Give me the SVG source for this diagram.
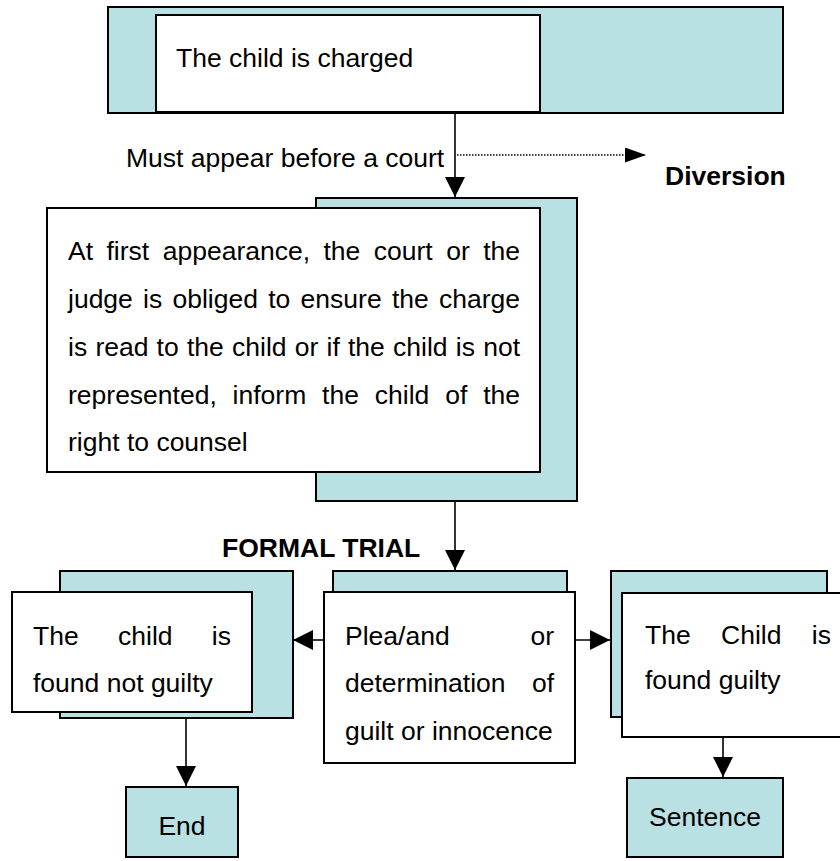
<svg xmlns="http://www.w3.org/2000/svg" width="840" height="861" viewBox="0 0 840 861">
<style>
.bg{fill:#FFFFFF}
.teal{fill:#B9E0E3;stroke:#000;stroke-width:2}
.white{fill:#FFFFFF;stroke:#000;stroke-width:2}
.t{font-family:"Liberation Sans",Arial,sans-serif;font-size:26.5px;fill:#000}
.b{font-weight:bold}
.e{text-anchor:end}
.m{text-anchor:middle}
.conn{stroke:#000;stroke-width:1.6;fill:none}
.dot{stroke:#000;stroke-width:1.3;fill:none;stroke-dasharray:1.5 1.5}
</style>
<defs>
<marker id="arr" viewBox="0 0 20 20" refX="20" refY="10" markerWidth="20" markerHeight="20" markerUnits="userSpaceOnUse" orient="auto">
<path d="M0,0 L20,10 L0,20 Z" fill="#000"/>
</marker>
<marker id="arrs" viewBox="0 0 21 15" refX="21" refY="7.5" markerWidth="21" markerHeight="15" markerUnits="userSpaceOnUse" orient="auto">
<path d="M0,0 L21,7.5 L0,15 Z" fill="#000"/>
</marker>
</defs>
<rect class="bg" x="0" y="0" width="840" height="861"/>

<g id="charged">
<rect class="teal" x="108" y="7" width="675" height="106"/>
<rect class="white" x="156" y="15" width="384" height="97"/>
<text class="t" x="176" y="67">The child is charged</text>
</g>

<g id="first-appearance">
<rect class="teal" x="316" y="198" width="261" height="303"/>
<rect class="white" x="47" y="208" width="493" height="264"/>
<text class="t" y="260"><tspan x="68">At</tspan><tspan x="106.5">first</tspan><tspan x="162.7">appearance,</tspan><tspan x="323.5">the</tspan><tspan x="373.8">court</tspan><tspan x="446.2">or</tspan></text>
<text class="t e" x="520" y="260">the</text>
<text class="t" y="308"><tspan x="68">judge</tspan><tspan x="143.1">is</tspan><tspan x="172.5">obliged</tspan><tspan x="268.2">to</tspan><tspan x="300.6">ensure</tspan><tspan x="391.9">the</tspan></text>
<text class="t e" x="520" y="308">charge</text>
<text class="t" y="356"><tspan x="68">is</tspan><tspan x="95.4">read</tspan><tspan x="156.6">to</tspan><tspan x="186.9">the</tspan><tspan x="232">child</tspan><tspan x="294.7">or</tspan><tspan x="326.5">if</tspan><tspan x="348">the</tspan><tspan x="393.1">child</tspan><tspan x="455.8">is</tspan></text>
<text class="t e" x="520" y="356">not</text>
<text class="t" y="404"><tspan x="68">represented,</tspan><tspan x="232.6">inform</tspan><tspan x="322.1">the</tspan><tspan x="374.8">child</tspan><tspan x="445.2">of</tspan></text>
<text class="t e" x="520" y="404">the</text>
<text class="t" x="68" y="451">right to counsel</text>
</g>

<g id="diversion">
<text class="t b" x="665" y="185">Diversion</text>
</g>

<g id="not-guilty">
<rect class="teal" x="60" y="571" width="233" height="147"/>
<rect class="white" x="12" y="592" width="240" height="120"/>
<text class="t" y="645"><tspan x="33">The</tspan><tspan x="118">child</tspan></text>
<text class="t e" x="231" y="645">is</text>
<text class="t" x="33" y="692">found not guilty</text>
</g>

<g id="plea">
<rect class="teal" x="333" y="571" width="234" height="60"/>
<rect class="white" x="324" y="592" width="251" height="171"/>
<text class="t" x="345" y="645">Plea/and</text>
<text class="t e" x="554" y="645">or</text>
<text class="t" x="345" y="692">determination</text>
<text class="t e" x="554" y="692">of</text>
<text class="t" x="345" y="740">guilt or innocence</text>
</g>

<g id="guilty">
<rect class="teal" x="611" y="571" width="216" height="146"/>
<rect class="white" x="622" y="593" width="230" height="144"/>
<text class="t" y="644"><tspan x="645">The</tspan><tspan x="721">Child</tspan></text>
<text class="t e" x="831" y="644">is</text>
<text class="t" x="645" y="689">found guilty</text>
</g>

<g id="end">
<rect class="teal" x="126" y="787" width="112" height="70"/>
<text class="t m" x="182" y="835">End</text>
</g>

<g id="sentence">
<rect class="teal" x="627" y="778" width="156" height="79"/>
<text class="t m" x="705" y="826">Sentence</text>
</g>

<g id="connectors">
<line class="conn" x1="455" y1="113" x2="455" y2="197" marker-end="url(#arr)"/>
<line class="dot" x1="457" y1="155" x2="646" y2="155" marker-end="url(#arrs)"/>
<text class="t" x="126" y="167">Must appear before a court</text>
<line class="conn" x1="455" y1="501" x2="455" y2="570" marker-end="url(#arr)"/>
<text class="t b" x="222" y="557">FORMAL TRIAL</text>
<line class="conn" x1="324" y1="640" x2="293" y2="640" marker-end="url(#arr)"/>
<line class="conn" x1="575" y1="640" x2="610" y2="640" marker-end="url(#arr)"/>
<line class="conn" x1="186" y1="718" x2="186" y2="786" marker-end="url(#arr)"/>
<line class="conn" x1="723" y1="737" x2="723" y2="777" marker-end="url(#arr)"/>
</g>
</svg>
